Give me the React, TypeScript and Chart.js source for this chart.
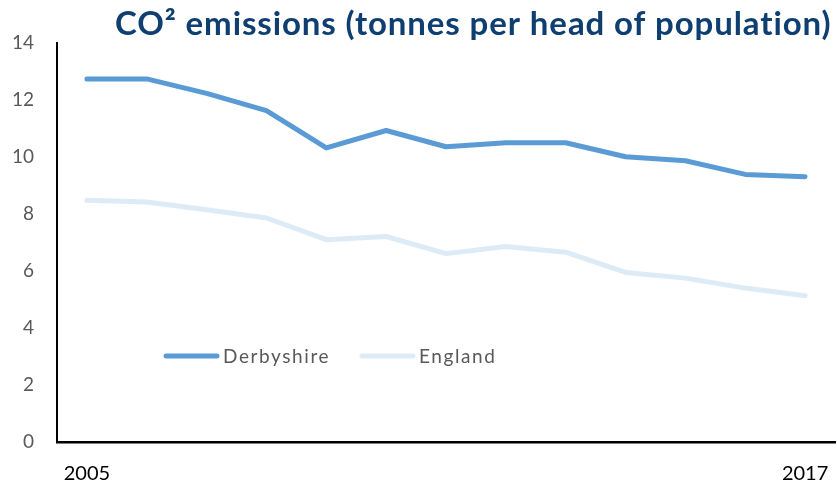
import React, { useEffect, useRef } from "react";
import { Chart, registerables } from "chart.js";

Chart.register(...registerables);

const years = ["2005", "2006", "2007", "2008", "2009", "2010", "2011", "2012", "2013", "2014", "2015", "2016", "2017"];
const derbyshire = [12.74, 12.74, 12.23, 11.63, 10.32, 10.93, 10.36, 10.5, 10.5, 10.01, 9.87, 9.39, 9.31];
const england = [8.48, 8.42, 8.15, 7.86, 7.1, 7.21, 6.61, 6.86, 6.66, 5.95, 5.75, 5.4, 5.13];
const shownYears = ["2005", "2017"];
const titleText = "CO\u00B2 emissions (tonnes per head of population)";

const FONT = "Lato, 'Open Sans', sans-serif";

// Title drawn right-aligned above the plot, spread to span its box
const titlePlugin = {
  id: "rightTitle",
  afterDraw(chart: any) {
    const ctx = chart.ctx;
    const left = 115;
    const right = 832;
    ctx.save();
    ctx.font = `bold 33px ${FONT}`;
    ctx.fillStyle = "#0F3F70";
    ctx.textAlign = "left";
    ctx.textBaseline = "alphabetic";
    (ctx as any).letterSpacing = "0px";
    const natural = ctx.measureText(titleText).width;
    const spacing = (right - left - natural) / titleText.length;
    (ctx as any).letterSpacing = `${spacing}px`;
    ctx.fillText(titleText, left, 35);
    ctx.restore();
  },
};

// Legend placed inside the plot area, below the lines
const insideLegend = {
  id: "insideLegend",
  afterDatasetsDraw(chart: any) {
    const ctx = chart.ctx;
    const starts = [164, 360];
    const y = 356;
    ctx.save();
    chart.data.datasets.forEach((ds: any, i: number) => {
      const x0 = starts[i];
      ctx.beginPath();
      ctx.strokeStyle = ds.borderColor;
      ctx.lineWidth = 5;
      ctx.lineCap = "round";
      ctx.moveTo(x0 + 2, y);
      ctx.lineTo(x0 + 53, y);
      ctx.stroke();
      ctx.font = `19px ${FONT}`;
      ctx.fillStyle = "#595959";
      ctx.textAlign = "left";
      ctx.textBaseline = "alphabetic";
      (ctx as any).letterSpacing = "1.6px";
      ctx.fillText(ds.label, x0 + 59, 363);
    });
    ctx.restore();
  },
};

export default function App() {
  const canvasRef = useRef<HTMLCanvasElement | null>(null);

  useEffect(() => {
    document.body.style.margin = "0";
    const canvas = canvasRef.current;
    if (!canvas) return;
    const chart = new Chart(canvas, {
      type: "line",
      data: {
        labels: years,
        datasets: [
          {
            label: "Derbyshire",
            data: derbyshire,
            borderColor: "#5B9BD5",
            backgroundColor: "#5B9BD5",
            borderWidth: 5,
            pointRadius: 0,
            borderCapStyle: "round",
            borderJoinStyle: "round",
            tension: 0,
          },
          {
            label: "England",
            data: england,
            borderColor: "#DDEBF7",
            backgroundColor: "#DDEBF7",
            borderWidth: 5,
            pointRadius: 0,
            borderCapStyle: "round",
            borderJoinStyle: "round",
            tension: 0,
          },
        ],
      },
      options: {
        animation: false,
        responsive: true,
        maintainAspectRatio: false,
        layout: { padding: { top: 43, right: 2, left: 0, bottom: 0 } },
        plugins: {
          legend: { display: false },
          title: { display: false },
          tooltip: { enabled: false },
        },
        scales: {
          x: {
            offset: true,
            grid: { display: false, drawTicks: false },
            border: { display: true, color: "#000000", width: 2.5 },
            afterFit: (scale: any) => {
              scale.height = 42;
              scale.paddingLeft = 0;
              scale.paddingRight = 0;
            },
            ticks: {
              autoSkip: false,
              maxRotation: 0,
              padding: 20,
              color: "#000000",
              font: { family: FONT, size: 20 },
              callback: function (this: any, value: any) {
                const lbl = years[value as number];
                return shownYears.includes(lbl) ? lbl : "";
              },
            },
          },
          y: {
            min: 0,
            max: 14,
            grid: { display: false, drawTicks: false },
            border: { display: true, color: "#000000", width: 2 },
            afterFit: (scale: any) => {
              scale.width = 57;
            },
            ticks: {
              stepSize: 2,
              padding: 23,
              color: "#595959",
              font: { family: FONT, size: 19 },
            },
          },
        },
      },
      plugins: [titlePlugin, insideLegend],
    });
    return () => chart.destroy();
  }, []);

  return (
    <div style={{ width: 837, height: 484, position: "relative" }}>
      <canvas ref={canvasRef} />
    </div>
  );
}
